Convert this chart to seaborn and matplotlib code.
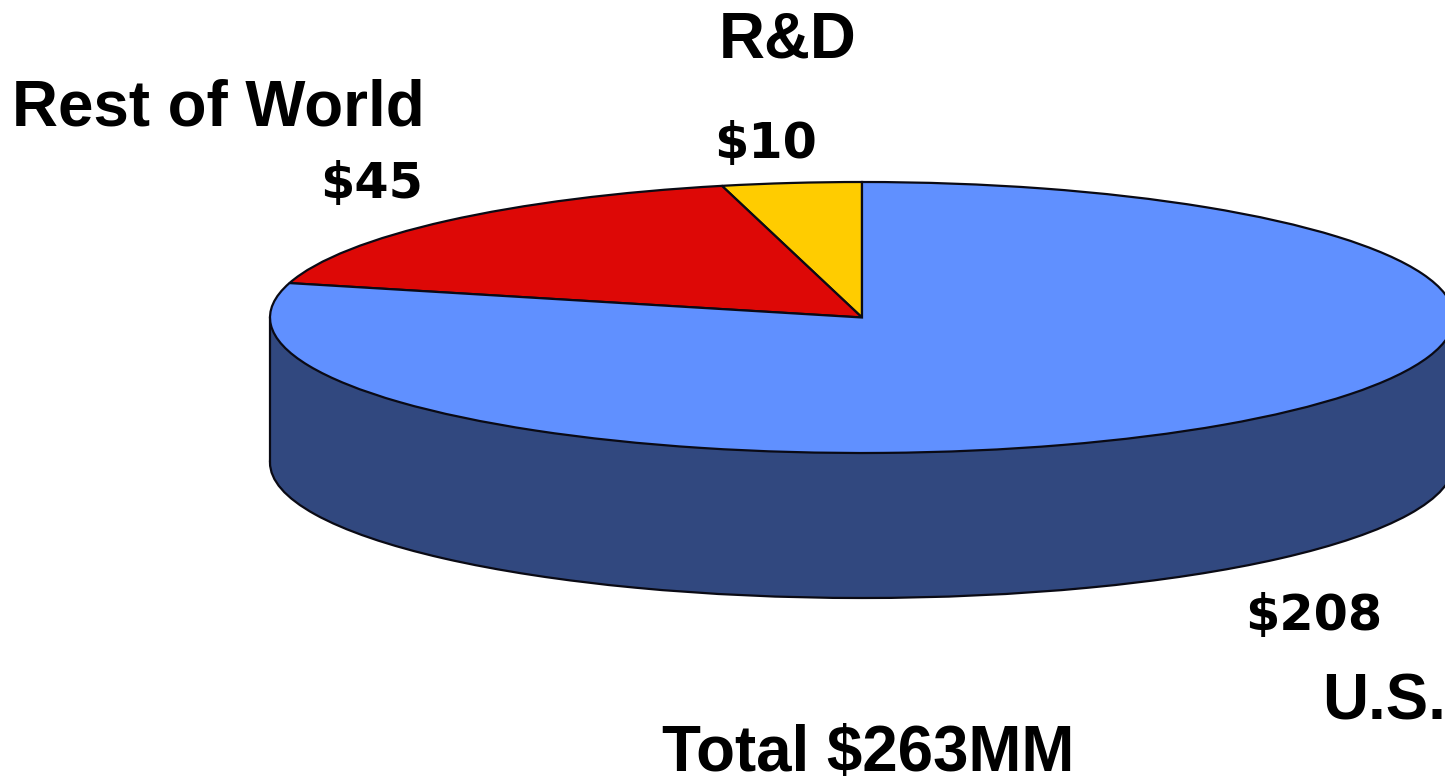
import matplotlib
matplotlib.use("Agg")
import matplotlib.pyplot as plt
from matplotlib.patches import Rectangle
import seaborn as sns

# Data
categories = ["R&D", "Rest of World", "U.S."]
values = [10, 45, 208]
value_labels = ["$10", "$45", "$208"]
total_label = "Total $263MM"

colors = ["#FFCC00", "#DD0806", "#6090FF"]
side_color = "#31487F"
edge = "#0A0A14"

W, H = 1445, 782
CX, CY, RX, RY, DEPTH = 862, 317.5, 592, 135.5, 145

sns.set_style("white")
fig = plt.figure(figsize=(W / 100, H / 100), dpi=100)
ax = fig.add_axes([0, 0, 1, 1])

d = DEPTH / RY
# lower rim of the disc
ax.pie([sum(values)], colors=[side_color], radius=1, center=(0, -d), startangle=90,
       wedgeprops=dict(edgecolor=edge, linewidth=1.6))
ax.add_patch(Rectangle((-1, -d), 2, d, facecolor=side_color, edgecolor="none", zorder=1.5))
ax.plot([-1, -1], [-d, 0], color=edge, lw=1.6, zorder=1.6)
ax.plot([1, 1], [-d, 0], color=edge, lw=1.6, zorder=1.6)
# top face
ax.pie(values, colors=colors, radius=1, center=(0, 0), startangle=90, counterclock=True,
       wedgeprops=dict(edgecolor=edge, linewidth=1.6, zorder=2))

ax.set_aspect("auto")
ax.set_xlim(-CX / RX, (W - CX) / RX)
ax.set_ylim((CY - H) / RY, CY / RY)
ax.axis("off")

def label(s, x, y, family, size):
    fig.text(x / W, 1 - y / H, s, ha="left", va="baseline", fontweight="bold",
             family=family, fontsize=size, color="black")

sans = "Liberation Sans"
dv = "DejaVu Sans"
label(categories[0], 719, 58, sans, 45.8)
label(categories[1], 12, 125, sans, 45.8)
label(categories[2], 1322, 720, sans, 45.8)
label(total_label, 662, 771, sans, 45.8)
label(value_labels[0], 714, 158, dv, 35.5)
label(value_labels[1], 320, 198, dv, 35.5)
label(value_labels[2], 1245, 630, dv, 35.5)

fig.savefig("out.png", dpi=100)
